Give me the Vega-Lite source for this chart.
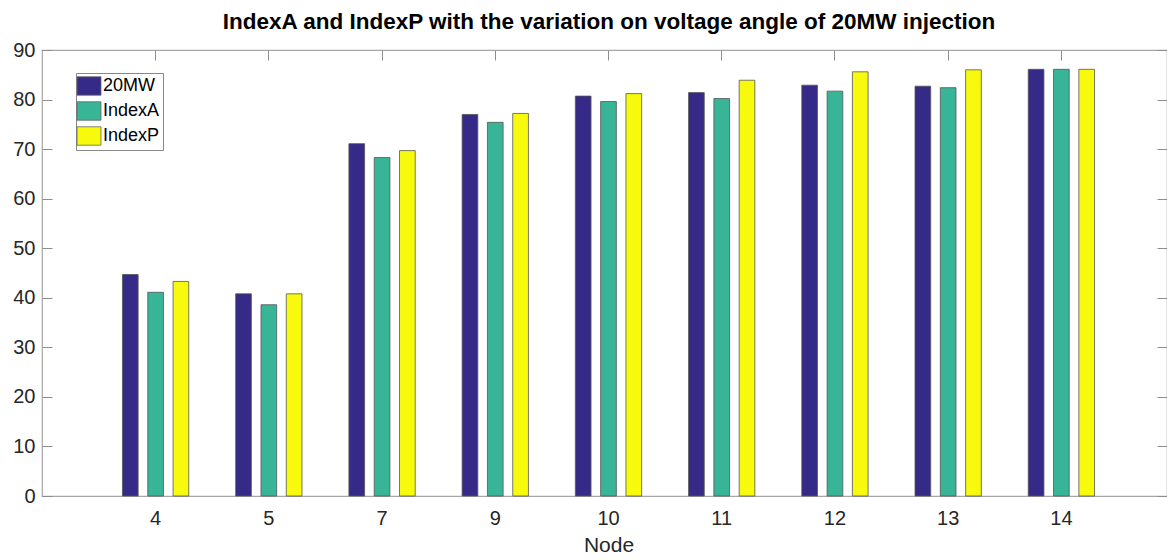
{
  "$schema": "https://vega.github.io/schema/vega-lite/v6.json",
  "width": 1125,
  "height": 446,
  "autosize": {"type": "none"},
  "padding": {"left": 42, "top": 50, "right": 0, "bottom": 64},
  "background": "white",
  "config": {
    "font": "Liberation Sans",
    "view": {"stroke": "#a6a6a6", "strokeWidth": 1.2},
    "axis": {"grid": false, "domain": false, "tickColor": "#8c8c8c", "labelColor": "#262626", "titleColor": "#262626", "labelFontWeight": "normal", "titleFontWeight": "normal"}
  },
  "data": {
    "values": [
      {"node": 4, "series": "20MW", "value": 44.7},
      {"node": 4, "series": "IndexA", "value": 41.1},
      {"node": 4, "series": "IndexP", "value": 43.3},
      {"node": 5, "series": "20MW", "value": 40.8},
      {"node": 5, "series": "IndexA", "value": 38.6},
      {"node": 5, "series": "IndexP", "value": 40.8},
      {"node": 7, "series": "20MW", "value": 71.1},
      {"node": 7, "series": "IndexA", "value": 68.3},
      {"node": 7, "series": "IndexP", "value": 69.7},
      {"node": 9, "series": "20MW", "value": 77.0},
      {"node": 9, "series": "IndexA", "value": 75.4},
      {"node": 9, "series": "IndexP", "value": 77.2},
      {"node": 10, "series": "20MW", "value": 80.7},
      {"node": 10, "series": "IndexA", "value": 79.6},
      {"node": 10, "series": "IndexP", "value": 81.2},
      {"node": 11, "series": "20MW", "value": 81.4},
      {"node": 11, "series": "IndexA", "value": 80.2},
      {"node": 11, "series": "IndexP", "value": 83.9},
      {"node": 12, "series": "20MW", "value": 82.9},
      {"node": 12, "series": "IndexA", "value": 81.7},
      {"node": 12, "series": "IndexP", "value": 85.6},
      {"node": 13, "series": "20MW", "value": 82.7},
      {"node": 13, "series": "IndexA", "value": 82.4},
      {"node": 13, "series": "IndexP", "value": 86.0},
      {"node": 14, "series": "20MW", "value": 86.1},
      {"node": 14, "series": "IndexA", "value": 86.1},
      {"node": 14, "series": "IndexP", "value": 86.1}
    ]
  },
  "layer": [
    {
      "mark": {"type": "bar", "stroke": "#555555", "strokeWidth": 0.8},
      "encoding": {
        "x": {
          "field": "node",
          "type": "ordinal",
          "scale": {"range": [57, 1076], "paddingInner": 0, "paddingOuter": 0},
          "axis": {
            "orient": "bottom",
            "title": "Node",
            "labelAngle": 0,
            "labelFontSize": 20,
            "titleFontSize": 21,
            "tickSize": -10,
            "labelPadding": 22,
            "titlePadding": 6
          }
        },
        "xOffset": {
          "field": "series",
          "type": "nominal",
          "sort": ["20MW", "IndexA", "IndexP"],
          "scale": {"paddingInner": 0.38, "paddingOuter": 0.927}
        },
        "y": {
          "field": "value",
          "type": "quantitative",
          "scale": {"domain": [0, 90], "nice": false},
          "axis": {
            "orient": "left",
            "title": null,
            "values": [0, 10, 20, 30, 40, 50, 60, 70, 80, 90],
            "labelFontSize": 20,
            "tickSize": -10,
            "labelPadding": 17
          }
        },
        "color": {
          "field": "series",
          "type": "nominal",
          "sort": ["20MW", "IndexA", "IndexP"],
          "scale": {"domain": ["20MW", "IndexA", "IndexP"], "range": ["#352a87", "#38b597", "#f8fa0d"]},
          "legend": {
            "title": null,
            "orient": "none",
            "legendX": 34,
            "legendY": 23,
            "direction": "vertical",
            "symbolType": "M-1.3,-1H1.3V1H-1.3Z",
            "symbolSize": 340,
            "symbolStrokeColor": "#666666",
            "symbolStrokeWidth": 0.8,
            "labelFontSize": 18,
            "labelColor": "#000000",
            "labelOffset": 4,
            "rowPadding": 3,
            "padding": 3,
            "strokeColor": "#888888",
            "fillColor": "white"
          }
        }
      }
    },
    {
      "mark": {"type": "bar", "opacity": 0},
      "encoding": {
        "x": {
          "field": "node",
          "type": "ordinal",
          "axis": {
            "orient": "top",
            "title": "IndexA and IndexP with the variation on voltage angle of 20MW injection",
            "titleFontSize": 22.5,
            "titleFontWeight": "bold",
            "titleColor": "#000000",
            "titlePadding": 16,
            "labels": false,
            "tickSize": -10
          }
        },
        "y": {
          "field": "value",
          "type": "quantitative",
          "axis": {"orient": "right", "title": null, "labels": false, "tickSize": -10, "values": [0, 10, 20, 30, 40, 50, 60, 70, 80, 90]}
        }
      }
    }
  ],
  "resolve": {"axis": {"x": "independent", "y": "independent"}}
}
